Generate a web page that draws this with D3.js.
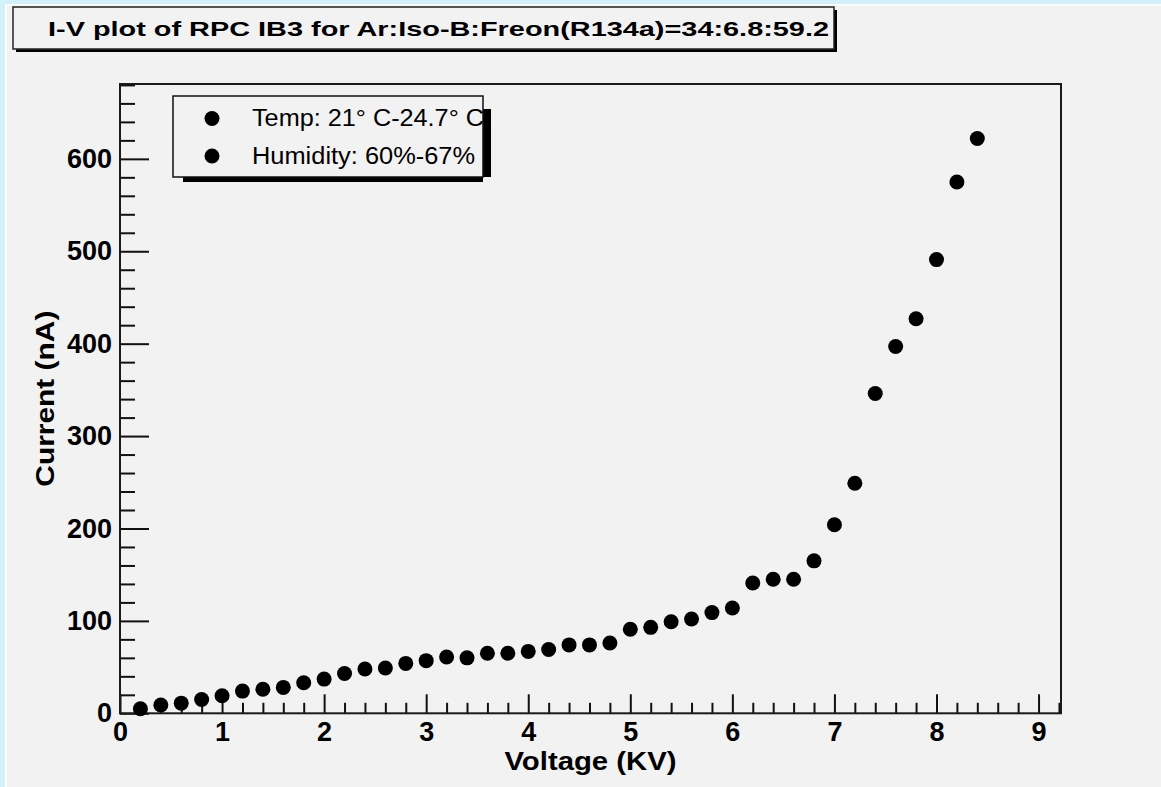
<!DOCTYPE html>
<html>
<head>
<meta charset="utf-8">
<script src="https://cdn.jsdelivr.net/npm/d3@7"></script>
<style>
  html, body { margin: 0; padding: 0; background: #f2f2f2; }
  svg { display: block; }
  text { font-family: "Liberation Sans", Arial, Helvetica, sans-serif; fill: #000; }
</style>
</head>
<body>
<svg id="chart" width="1161" height="787"></svg>
<script>
// I-V scan of the RPC: applied high voltage (kV) against measured current (nA)
const titleText = "I-V plot of RPC IB3 for Ar:Iso-B:Freon(R134a)=34:6.8:59.2";
const xTitle = "Voltage (KV)";
const yTitle = "Current (nA)";

const voltage = [0.2, 0.4, 0.6, 0.8, 1.0, 1.2, 1.4, 1.6, 1.8, 2.0, 2.2, 2.4, 2.6, 2.8,
                 3.0, 3.2, 3.4, 3.6, 3.8, 4.0, 4.2, 4.4, 4.6, 4.8, 5.0, 5.2, 5.4, 5.6,
                 5.8, 6.0, 6.2, 6.4, 6.6, 6.8, 7.0, 7.2, 7.4, 7.6, 7.8, 8.0, 8.2, 8.4];
const current = [5, 9, 11, 15, 19, 24, 26, 28, 33, 37, 43, 48, 49, 54,
                 57, 61, 60, 65, 65, 67, 69, 74, 74, 76, 91, 93, 99, 102,
                 109, 114, 141, 145, 145, 165, 204, 249, 346, 397, 427, 491, 575, 622];

const xMajorTicks = [0, 1, 2, 3, 4, 5, 6, 7, 8, 9];
const yMajorTicks = [0, 100, 200, 300, 400, 500, 600];
const xTickLabels = ["0", "1", "2", "3", "4", "5", "6", "7", "8", "9"];
const yTickLabels = ["0", "100", "200", "300", "400", "500", "600"];

// legend entries
const legendLabels = ["Temp: 21\u00B0 C-24.7\u00B0 C", "Humidity: 60%-67%"];

const W = 1161, H = 787;
const svg = d3.select("#chart");

// pad background with the light-blue canvas edge
svg.append("rect").attr("x", 0).attr("y", 0).attr("width", W).attr("height", H).attr("fill", "#f2f2f2");
svg.append("rect").attr("x", 0).attr("y", 0).attr("width", W).attr("height", 4).attr("fill", "#d3f1fb");
svg.append("rect").attr("x", 0).attr("y", 0).attr("width", 5).attr("height", H).attr("fill", "#d3f1fb");
svg.append("rect").attr("x", 5).attr("y", 4).attr("width", W - 5).attr("height", 1.5).attr("fill", "#ffffff");
svg.append("rect").attr("x", 5).attr("y", 4).attr("width", 1.5).attr("height", H - 4).attr("fill", "#ffffff");

const plot = { left: 120, right: 1061, top: 84, bottom: 713.3 };

const x = d3.scaleLinear().domain([0, 9.22]).range([plot.left, plot.right]);
const y = d3.scaleLinear().domain([0, 681]).range([plot.bottom, plot.top]);

const tickFont = "bold 27px 'Liberation Sans', Arial, sans-serif";

// major + minor ticks, all drawn inward
const xMinor = d3.range(0, 9.21, 0.2).filter(v => Math.abs(v - Math.round(v)) > 1e-6);
const yMinor = d3.range(0, 681, 20).filter(v => v % 100 !== 0);

const gxMinor = svg.append("g").attr("transform", `translate(0,${plot.bottom})`)
  .call(d3.axisBottom(x).tickValues(xMinor).tickSizeInner(-10.5).tickSizeOuter(0).tickFormat(""));
const gx = svg.append("g").attr("transform", `translate(0,${plot.bottom})`)
  .call(d3.axisBottom(x).tickValues(xMajorTicks).tickSizeInner(-19).tickSizeOuter(0)
    .tickPadding(9).tickFormat((d, i) => xTickLabels[i]));

const gyMinor = svg.append("g").attr("transform", `translate(${plot.left},0)`)
  .call(d3.axisLeft(y).tickValues(yMinor).tickSizeInner(-15).tickSizeOuter(0).tickFormat(""));
const gy = svg.append("g").attr("transform", `translate(${plot.left},0)`)
  .call(d3.axisLeft(y).tickValues(yMajorTicks).tickSizeInner(-29).tickSizeOuter(0)
    .tickPadding(8).tickFormat((d, i) => yTickLabels[i]));

[gx, gy, gxMinor, gyMinor].forEach(g => {
  g.selectAll(".domain").remove();
  g.selectAll(".tick line").attr("stroke", "#111").attr("stroke-width", 2);
  g.selectAll(".tick text").style("font", tickFont).attr("fill", "#000");
});

// frame around the plotting area
svg.append("rect")
  .attr("x", plot.left).attr("y", plot.top)
  .attr("width", plot.right - plot.left).attr("height", plot.bottom - plot.top)
  .attr("fill", "none").attr("stroke", "#1a1a1a").attr("stroke-width", 2);

// axis titles
svg.append("text")
  .attr("x", (plot.left + plot.right) / 2).attr("y", 770)
  .attr("text-anchor", "middle")
  .attr("textLength", 172).attr("lengthAdjust", "spacingAndGlyphs")
  .style("font", "bold 25px 'Liberation Sans', Arial, sans-serif")
  .text(xTitle);

svg.append("text")
  .attr("transform", `translate(54,${(plot.top + plot.bottom) / 2}) rotate(-90)`)
  .attr("text-anchor", "middle")
  .attr("textLength", 176).attr("lengthAdjust", "spacingAndGlyphs")
  .style("font", "bold 26px 'Liberation Sans', Arial, sans-serif")
  .text(yTitle);

// data points
svg.append("g").selectAll("circle")
  .data(voltage.map((v, i) => ({ v, c: current[i] })))
  .join("circle")
  .attr("cx", d => x(d.v))
  .attr("cy", d => y(d.c))
  .attr("r", 7.5)
  .attr("fill", "#000");

// title box with shadow
svg.append("rect").attr("x", 16).attr("y", 10).attr("width", 821).attr("height", 42).attr("fill", "#000");
svg.append("rect").attr("x", 13).attr("y", 7).attr("width", 821).attr("height", 42)
  .attr("fill", "#f2f2f2").attr("stroke", "#222").attr("stroke-width", 1.5);
svg.append("text")
  .attr("x", 48).attr("y", 36)
  .attr("textLength", 781).attr("lengthAdjust", "spacingAndGlyphs")
  .style("font", "bold 21px 'Liberation Sans', Arial, sans-serif")
  .text(titleText);

// legend box with shadow
const lg = { x: 173, y: 96, w: 310, h: 81 };
svg.append("path")
  .attr("d", `M${lg.x + 10},${lg.y + lg.h} L${lg.x + lg.w + 8},${lg.y + lg.h} L${lg.x + lg.w + 8},${lg.y + 13}
              L${lg.x + lg.w},${lg.y + 13} L${lg.x + lg.w},${lg.y + lg.h + 5} L${lg.x + 10},${lg.y + lg.h + 5} Z`)
  .attr("fill", "#000");
svg.append("rect").attr("x", lg.x).attr("y", lg.y).attr("width", lg.w).attr("height", lg.h)
  .attr("fill", "#f2f2f2").attr("stroke", "#111").attr("stroke-width", 1.5);

const legendRows = [{ cy: 118.5, base: 126, len: 232 }, { cy: 156, base: 164, len: 223 }];
legendLabels.forEach((label, i) => {
  svg.append("circle").attr("cx", 212).attr("cy", legendRows[i].cy).attr("r", 7.5).attr("fill", "#000");
  svg.append("text")
    .attr("x", 252).attr("y", legendRows[i].base)
    .attr("textLength", legendRows[i].len).attr("lengthAdjust", "spacingAndGlyphs")
    .style("font", "23px 'Liberation Sans', Arial, sans-serif")
    .text(label);
});
</script>
</body>
</html>
